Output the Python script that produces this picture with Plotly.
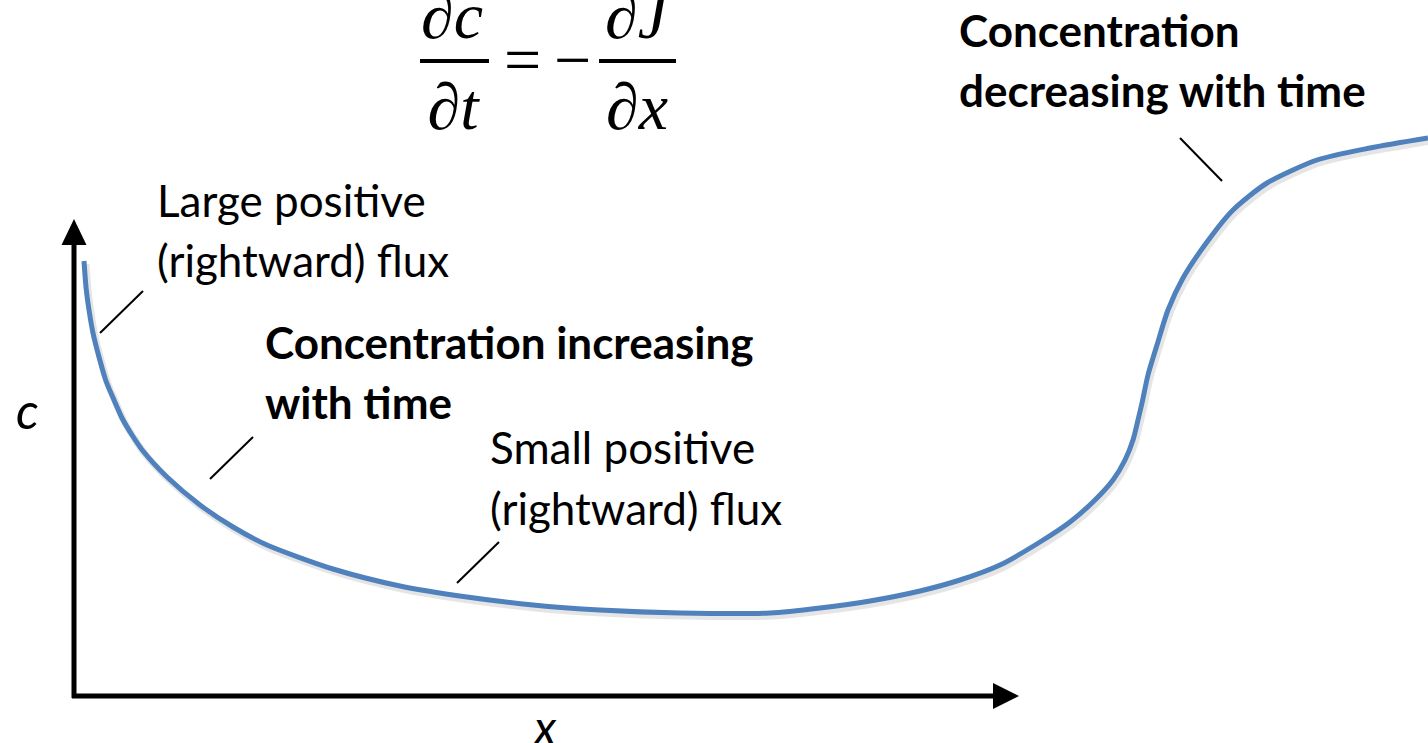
import plotly.graph_objects as go

# ---- data (pixel-space reading of the sketch; y grows downward) ----
curve_x = [84, 86, 89, 93, 99, 106, 114, 122, 132, 143, 167, 200, 233, 267, 333, 400, 467, 533,
           600, 680, 770, 820, 870, 920, 960, 1000, 1040, 1070, 1095, 1113, 1125, 1133,
           1138, 1142, 1148, 1157, 1168, 1183, 1207, 1233, 1267, 1317, 1370, 1428]
curve_y = [261, 287, 310, 333, 357, 381, 400, 418, 435, 451, 477, 505, 527, 545, 569, 586, 597, 605,
           610, 613, 613, 608, 601, 591, 580, 565, 542, 522, 500, 480, 460, 440,
           420, 403, 375, 345, 310, 278, 242, 210, 183, 160, 148, 138]

labels = ["Large positive", "(rightward) flux",
          "Concentration increasing", "with time",
          "Small positive", "(rightward) flux",
          "Concentration", "decreasing with time"]
label_bold = [False, False, True, True, False, False, True, True]

eq_terms = ["∂<i>c</i>", "∂<i>t</i>", "∂<i>J</i>", "∂<i>x</i>"]

W, H = 1428, 743
BLUE = "#4F81BD"
SANS = "Lato, Carlito, Calibri, sans-serif"
SERIF = "Liberation Serif, Times New Roman, serif"

fig = go.Figure()
# soft shadow under the curve
fig.add_trace(go.Scatter(x=[v + 2 for v in curve_x], y=[v + 3 for v in curve_y], mode="lines",
                         line=dict(color="rgba(0,0,0,0.10)", width=7, shape="spline", smoothing=0.7),
                         hoverinfo="skip", showlegend=False))
fig.add_trace(go.Scatter(x=curve_x, y=curve_y, mode="lines",
                         line=dict(color=BLUE, width=5, shape="spline", smoothing=0.7),
                         hoverinfo="skip", showlegend=False))
# equation fractions
fig.add_trace(go.Scatter(x=[452, 453, 636, 637], y=[21, 112, 21, 112], mode="text",
                         text=eq_terms, textposition="middle center", cliponaxis=False,
                         textfont=dict(family=SERIF, size=66, color="black"),
                         hoverinfo="skip", showlegend=False))

shapes = []
# axes
shapes.append(dict(type="line", x0=74, y0=698, x1=74, y1=240, line=dict(color="black", width=5)))
shapes.append(dict(type="line", x0=72, y0=696, x1=996, y1=696, line=dict(color="black", width=5)))
shapes.append(dict(type="path", path="M 74 219 L 61.5 245 L 86.5 245 Z", fillcolor="black", line=dict(width=0)))
shapes.append(dict(type="path", path="M 1019 696 L 993 683 L 993 709 Z", fillcolor="black", line=dict(width=0)))
# leader lines
for (a, b, c, d) in [(100, 333, 143, 291), (210, 479, 253, 437), (457, 583, 499, 542), (1180, 138, 1222, 181)]:
    shapes.append(dict(type="line", x0=a, y0=b, x1=c, y1=d, line=dict(color="black", width=2)))
# fraction bars
shapes.append(dict(type="line", x0=420, y0=61, x1=489, y1=61, line=dict(color="black", width=4)))
shapes.append(dict(type="line", x0=599, y0=61, x1=676, y1=61, line=dict(color="black", width=4)))

ann = []
pos = [(155, 200), (155, 260), (263, 342), (263, 402), (488, 447), (488, 508), (957, 30), (957, 90)]
for t, b, (px, py) in zip(labels, label_bold, pos):
    ann.append(dict(x=px, y=py, text=(f"<b>{t}</b>" if b else t), showarrow=False,
                    xanchor="left", yanchor="middle",
                    font=dict(family=SANS, size=44, color="black")))
# axis labels
ann.append(dict(x=27, y=410, text="<i>c</i>", showarrow=False, xanchor="center", yanchor="middle",
                font=dict(family=SANS, size=50, color="black")))
ann.append(dict(x=544, y=726, text="<i>x</i>", showarrow=False, xanchor="center", yanchor="middle",
                font=dict(family=SANS, size=48, color="black")))
# equation operators
for t, px, py in [("=", 522, 59), ("−", 572, 59)]:
    ann.append(dict(x=px, y=py, text=t, showarrow=False, xanchor="center", yanchor="middle",
                    font=dict(family=SERIF, size=66, color="black")))

fig.update_layout(
    width=W, height=H, margin=dict(l=0, r=0, t=0, b=0),
    paper_bgcolor="white", plot_bgcolor="white",
    xaxis=dict(range=[0, W], visible=False, fixedrange=True),
    yaxis=dict(range=[H, 0], visible=False, fixedrange=True),
    shapes=shapes, annotations=ann, showlegend=False,
)
fig.write_html("out.html", config={"displayModeBar": False},
               post_script="document.body.style.margin='0';document.body.style.overflow='hidden';")
